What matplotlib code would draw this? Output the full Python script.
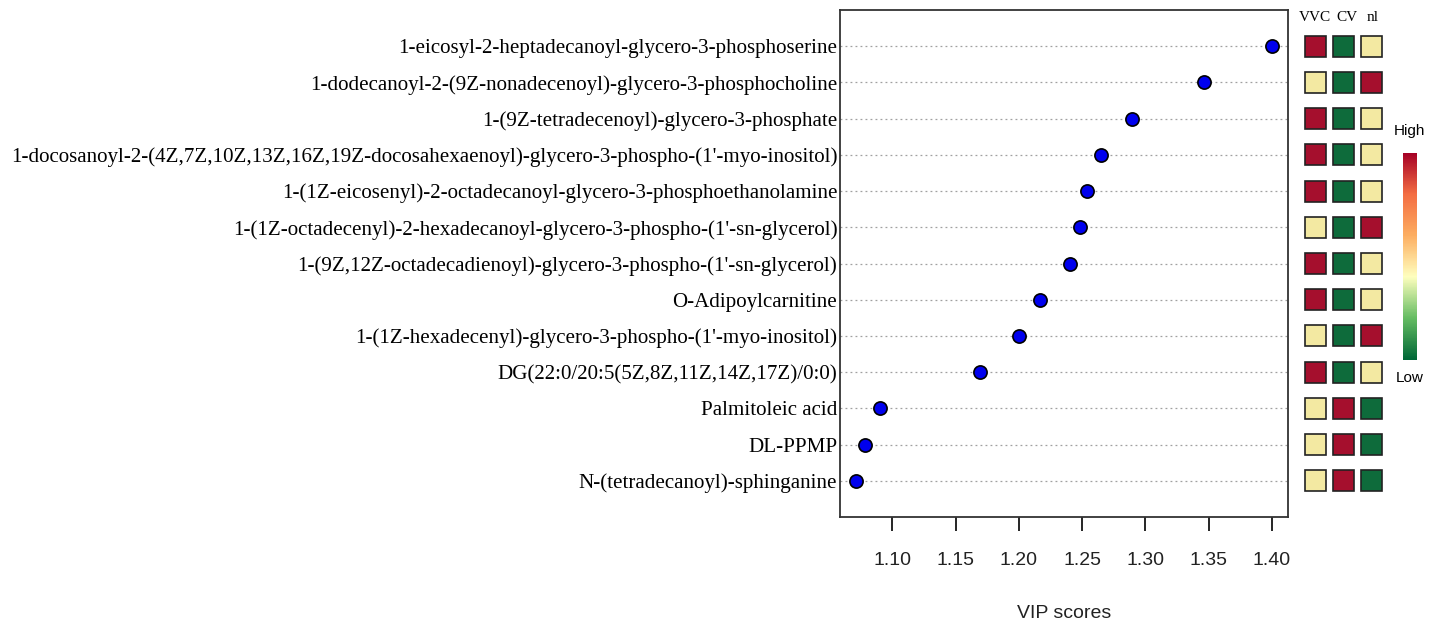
import matplotlib.pyplot as plt
from matplotlib.patches import Rectangle
from matplotlib.colors import LinearSegmentedColormap
import numpy as np

compounds = [
    "1-eicosyl-2-heptadecanoyl-glycero-3-phosphoserine",
    "1-dodecanoyl-2-(9Z-nonadecenoyl)-glycero-3-phosphocholine",
    "1-(9Z-tetradecenoyl)-glycero-3-phosphate",
    "1-docosanoyl-2-(4Z,7Z,10Z,13Z,16Z,19Z-docosahexaenoyl)-glycero-3-phospho-(1'-myo-inositol)",
    "1-(1Z-eicosenyl)-2-octadecanoyl-glycero-3-phosphoethanolamine",
    "1-(1Z-octadecenyl)-2-hexadecanoyl-glycero-3-phospho-(1'-sn-glycerol)",
    "1-(9Z,12Z-octadecadienoyl)-glycero-3-phospho-(1'-sn-glycerol)",
    "O-Adipoylcarnitine",
    "1-(1Z-hexadecenyl)-glycero-3-phospho-(1'-myo-inositol)",
    "DG(22:0/20:5(5Z,8Z,11Z,14Z,17Z)/0:0)",
    "Palmitoleic acid",
    "DL-PPMP",
    "N-(tetradecanoyl)-sphinganine",
]
vip = [1.400, 1.346, 1.289, 1.265, 1.254, 1.248, 1.240, 1.217, 1.200, 1.169, 1.090, 1.078, 1.071]

groups = ["VVC", "CV", "nl"]
# relative level per group: 1 = high, 0 = middle, -1 = low
vvc = [1, 0, 1, 1, 1, 0, 1, 1, 0, 1, 0, 0, 0]
cv = [-1, -1, -1, -1, -1, -1, -1, -1, -1, -1, 1, 1, 1]
nl = [0, 1, 0, 0, 0, 1, 0, 0, 1, 0, -1, -1, -1]

xticks = [1.10, 1.15, 1.20, 1.25, 1.30, 1.35, 1.40]

level_colors = {1: "#A50F2D", 0: "#F3E9A2", -1: "#0E6B3B"}
cmap = LinearSegmentedColormap.from_list(
    "hl", ["#006837", "#66BD63", "#FFFFBF", "#FDAE61", "#F46D43", "#A50026"])

fig = plt.figure(figsize=(14.41, 6.2), dpi=100)
ax = fig.add_axes([0.583, 0.166, 0.311, 0.818])

y = np.arange(len(compounds))
for yi in y:
    ax.axhline(yi, color="#A0A0A0", linestyle=(0, (1.5, 2.5)), linewidth=0.9, zorder=1)
ax.plot(vip, y, "o", color="#0000EE", markeredgecolor="black", markeredgewidth=1.2,
        markersize=9.5, zorder=3)

ax.set_xlim(1.0586, 1.4129)
ax.set_ylim(len(compounds), -1)
ax.set_yticks(y)
ax.set_yticklabels(compounds, family="Liberation Serif", fontsize=15.1)
ax.tick_params(axis="y", length=0, pad=2)
ax.set_xticks(xticks)
ax.set_xticklabels([f"{t:.2f}" for t in xticks], family="Liberation Sans", fontsize=14,
                   color="#222222")
ax.tick_params(axis="x", direction="out", length=10, width=1.2, pad=15)
for s in ax.spines.values():
    s.set_linewidth(1.3)
    s.set_color("#333333")
ax.set_xlabel("VIP scores", family="Liberation Sans", fontsize=14, color="#222222", labelpad=26)

# heat squares
hax = fig.add_axes([0.9036, 0.166, 0.0576, 0.818])
hax.set_xlim(-0.5, 2.5)
hax.set_ylim(len(compounds), -1)
hax.axis("off")
for j, col in enumerate([vvc, cv, nl]):
    for i, v in enumerate(col):
        hax.add_patch(Rectangle((j - 0.38, i - 0.29), 0.76, 0.58,
                                facecolor=level_colors[v], edgecolor="#222222", linewidth=1.2))
for j, name, dx in zip(range(3), groups, [-0.05, 0.12, 0.05]):
    hax.text(j + dx, -0.78, name, ha="center", va="center", family="Liberation Serif",
             fontsize=11)

# color key
cax = fig.add_axes([0.9735, 0.419, 0.0095, 0.334])
cax.imshow(np.linspace(1, 0, 200).reshape(-1, 1), aspect="auto", cmap=cmap)
cax.set_xticks([])
cax.set_yticks([])
for s in cax.spines.values():
    s.set_visible(False)
fig.text(0.9782, 0.789, "High", ha="center", va="center", family="Liberation Sans", fontsize=11)
fig.text(0.9782, 0.39, "Low", ha="center", va="center", family="Liberation Sans", fontsize=11)

fig.savefig("out.png", dpi=100)
